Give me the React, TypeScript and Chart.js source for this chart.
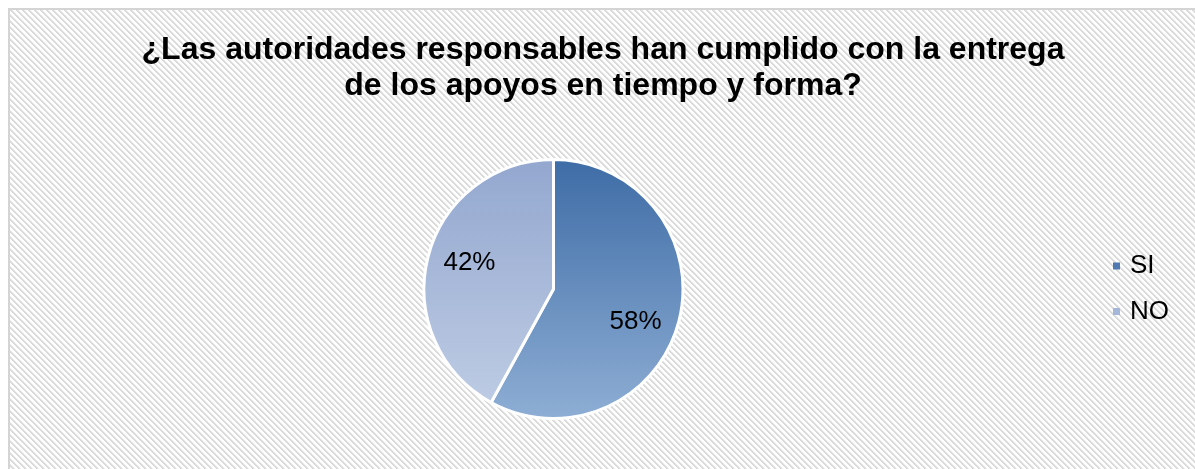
import React, { useEffect, useRef } from "react";
import { Chart, registerables } from "chart.js";

Chart.register(...registerables);

// ---- data ----
const TITLE_LINES = [
  "¿Las autoridades responsables han cumplido con la entrega",
  "de los apoyos en tiempo y forma?",
];
const CATEGORIES = ["SI", "NO"];
const VALUES = [58, 42];

// ---- styles ----
const FONT = "'Liberation Sans', Arial, Helvetica, sans-serif";
const GRADIENTS = [
  ["#3e6ca6", "#8eaed4"],
  ["#93a7cf", "#c0cee5"],
];
const LEGEND_SWATCH = ["#4e7ab1", "#a5b7d9"];
const LABEL_NUDGE = [
  [-2, 11],
  [0, -5],
];

const W = 1187;
const H = 461;

function makePattern(ctx: CanvasRenderingContext2D) {
  const p = 6;
  const tile = document.createElement("canvas");
  tile.width = p;
  tile.height = p;
  const tctx = tile.getContext("2d")!;
  const img = tctx.createImageData(p, p);
  for (let y = 0; y < p; y++) {
    for (let x = 0; x < p; x++) {
      const k = (((x - y) % p) + p) % p;
      let v = 255;
      if (k === 0 || k === 1) v = 218;
      else if (k === 2) v = 236;
      const i = (y * p + x) * 4;
      img.data[i] = v;
      img.data[i + 1] = v;
      img.data[i + 2] = v;
      img.data[i + 3] = 255;
    }
  }
  tctx.putImageData(img, 0, 0);
  return ctx.createPattern(tile, "repeat");
}

const backgroundPlugin = {
  id: "hatchBackground",
  beforeDraw(chart: any) {
    const ctx = chart.ctx as CanvasRenderingContext2D;
    ctx.save();
    ctx.fillStyle = "#ffffff";
    ctx.fillRect(0, 0, chart.width, chart.height);
    const pat = makePattern(ctx);
    if (pat) {
      ctx.fillStyle = pat;
      ctx.fillRect(0, 0, chart.width, chart.height);
    }
    ctx.strokeStyle = "#d4d4d4";
    ctx.lineWidth = 2;
    ctx.beginPath();
    ctx.moveTo(1, chart.height);
    ctx.lineTo(1, 1);
    ctx.lineTo(chart.width, 1);
    ctx.stroke();
    ctx.restore();
  },
};

const titlePlugin = {
  id: "twoLineTitle",
  afterDraw(chart: any) {
    const ctx = chart.ctx as CanvasRenderingContext2D;
    ctx.save();
    ctx.fillStyle = "#000000";
    ctx.font = `bold 32px ${FONT}`;
    ctx.textAlign = "center";
    ctx.textBaseline = "alphabetic";
    TITLE_LINES.forEach((line, i) => {
      ctx.fillText(line, 595, 51 + i * 36);
    });
    ctx.restore();
  },
};

const dataLabelPlugin = {
  id: "percentLabels",
  afterDatasetsDraw(chart: any) {
    const ctx = chart.ctx as CanvasRenderingContext2D;
    const meta = chart.getDatasetMeta(0);
    const data = chart.data.datasets[0].data as number[];
    const total = data.reduce((a, b) => a + b, 0);
    ctx.save();
    ctx.fillStyle = "#000000";
    ctx.font = `26px ${FONT}`;
    ctx.textAlign = "center";
    ctx.textBaseline = "middle";
    meta.data.forEach((arc: any, i: number) => {
      const { x, y, startAngle, endAngle, outerRadius } = arc.getProps(
        ["x", "y", "startAngle", "endAngle", "outerRadius"],
        true
      );
      const mid = (startAngle + endAngle) / 2;
      const r = outerRadius * 0.67;
      const px = x + Math.cos(mid) * r + LABEL_NUDGE[i][0];
      const py = y + Math.sin(mid) * r + LABEL_NUDGE[i][1];
      const pct = Math.round((data[i] / total) * 100);
      ctx.fillText(`${pct}%`, px, py);
    });
    ctx.restore();
  },
};

const legendPlugin = {
  id: "sideLegend",
  afterDraw(chart: any) {
    const ctx = chart.ctx as CanvasRenderingContext2D;
    const labels = chart.data.labels as string[];
    ctx.save();
    ctx.font = `26px ${FONT}`;
    ctx.textAlign = "left";
    ctx.textBaseline = "middle";
    labels.forEach((lab, i) => {
      const cy = 258 + i * 45.5;
      ctx.fillStyle = LEGEND_SWATCH[i];
      ctx.fillRect(1105, cy - 3.5, 7, 7);
      ctx.fillStyle = "#000000";
      ctx.fillText(lab, 1122, cy);
    });
    ctx.restore();
  },
};

export default function App() {
  const ref = useRef<HTMLCanvasElement | null>(null);

  useEffect(() => {
    if (!ref.current) return;
    const chart = new Chart(ref.current, {
      type: "pie",
      data: {
        labels: CATEGORIES,
        datasets: [
          {
            data: VALUES,
            backgroundColor: (c: any) => {
              const ch = c.chart;
              const area = ch.chartArea;
              const idx = c.dataIndex ?? 0;
              if (!area) return LEGEND_SWATCH[idx];
              const g = ch.ctx.createLinearGradient(0, area.top, 0, area.bottom);
              g.addColorStop(0, GRADIENTS[idx][0]);
              g.addColorStop(1, GRADIENTS[idx][1]);
              return g;
            },
            borderColor: "#ffffff",
            borderWidth: 3,
          },
        ],
      },
      options: {
        responsive: false,
        animation: false,
        devicePixelRatio: 1,
        layout: { padding: { left: 0, right: 96, top: 150, bottom: 49 } },
        plugins: {
          legend: { display: false },
          title: { display: false },
          tooltip: { enabled: false },
        },
      },
      plugins: [backgroundPlugin, dataLabelPlugin, titlePlugin, legendPlugin],
    });
    return () => chart.destroy();
  }, []);

  return (
    <div style={{ position: "fixed", left: 8, top: 8, width: W, height: H, overflow: "hidden" }}>
      <canvas
        ref={ref}
        width={W}
        height={H}
        style={{ display: "block", width: W, height: H }}
      />
    </div>
  );
}
